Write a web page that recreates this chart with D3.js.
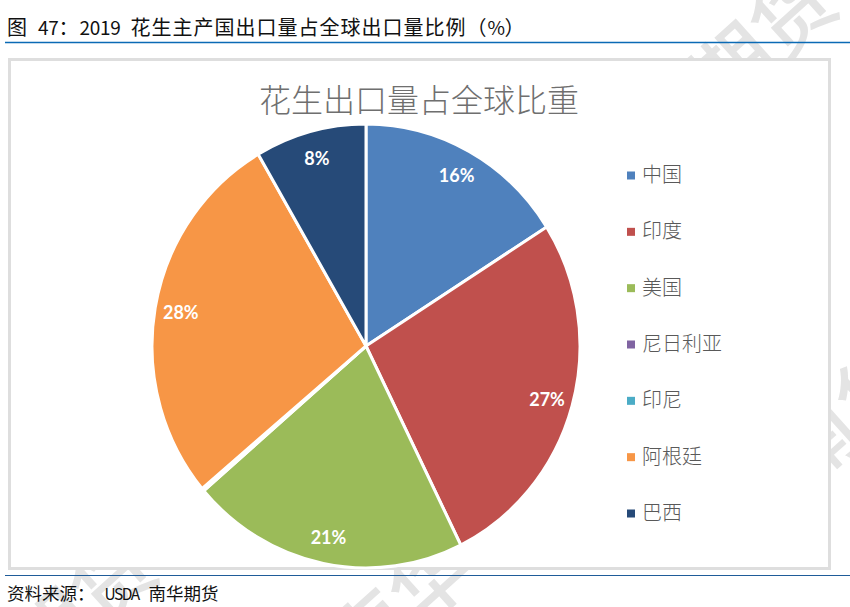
<!DOCTYPE html>
<html><head><meta charset="utf-8">
<script src="https://cdn.jsdelivr.net/npm/d3@7/dist/d3.min.js"></script>
<style>html,body{margin:0;padding:0;background:#fff}svg{display:block}</style>
</head><body><svg id="c" width="850" height="607"></svg>
<script>
const categories=["中国","印度","美国","尼日利亚","印尼","阿根廷","巴西"];
const shares=[16.0,26.7,21.0,0.1,0.1,27.7,8.4];
const labels=["16%","27%","21%","","","28%","8%"];
const colors=["#4f81bd","#c0504d","#9bbb59","#8064a2","#4bacc6","#f79646","#264a78"];
const pageTitle="图 47：2019 花生主产国出口量占全球出口量比例（%）";
const chartTitle="花生出口量占全球比重";
const source="资料来源： USDA 南华期货";
const watermarks=[["期货",768,46],["南华",852,420],["南华",405,612],["期货",88,612]];

const svg=d3.select("#c");
const cjk='"Noto Sans CJK SC","Noto Sans",sans-serif';
// mixed-script line: full-width runs and condensed latin runs
function mixed(x,y,str,cjkSize,ls,latSize,latLs,ws){
  const isLat=d=>/^[\x20-\x7e]/.test(d);
  const t=svg.append("text").attr("x",x).attr("y",y).attr("fill","#111").attr("font-family",cjk);
  t.selectAll("tspan").data(str.match(/[\x20-\x7e]+|[^\x20-\x7e]+/g)).join("tspan")
    .style("white-space","pre")
    .style("word-spacing",d=>isLat(d)?ws+"px":"0px")
    .attr("font-size",d=>isLat(d)?latSize:cjkSize)
    .attr("letter-spacing",d=>isLat(d)?latLs:ls)
    .text(d=>d);
}
svg.selectAll(".wm").data(watermarks).join("text").attr("class","wm")
  .attr("transform",d=>`translate(${d[1]},${d[2]}) rotate(-42)`)
  .attr("text-anchor","middle").attr("dominant-baseline","middle")
  .attr("font-family",cjk).attr("font-weight",500).attr("font-size",80).attr("fill","#e4e4e4").text(d=>d[0]);

mixed(7,35,pageTitle,20,1,19,-0.3,6);
svg.append("line").attr("x1",5).attr("x2",850).attr("y1",42.5).attr("y2",42.5).attr("stroke","#0a6ab5").attr("stroke-width",1.3);

svg.append("rect").attr("x",9.5).attr("y",59.5).attr("width",820).attr("height",509).attr("fill","#fff").attr("stroke","#dedede").attr("stroke-width",3);
svg.append("text").attr("x",419).attr("y",112).attr("text-anchor","middle").attr("font-family",cjk).attr("font-weight",300).attr("font-size",32).attr("fill","#6f6f6f").text(chartTitle);

const cx=366,cy=346,R=214,stretch=222/214;
const pie=d3.pie().sort(null).value(d=>d.v)(categories.map((c,i)=>({c,v:shares[i],l:labels[i],col:colors[i]})));
const arc=d3.arc().innerRadius(0).outerRadius(R);
const lab=d3.arc().innerRadius(188).outerRadius(188);
const g=svg.append("g").attr("transform",`translate(${cx},${cy})`);
g.append("g").attr("transform",`scale(1,${stretch})`).selectAll("path").data(pie).join("path").attr("d",arc).attr("fill",d=>d.data.col).attr("stroke","#fff").attr("stroke-width",3);
g.append("g").selectAll("text").data(pie.filter(d=>d.data.l)).join("text")
  .attr("transform",d=>{const [a,b]=lab.centroid(d);return `translate(${a},${b*stretch})`;}).attr("text-anchor","middle").attr("dominant-baseline","central")
  .attr("font-family","Lato,sans-serif").attr("font-weight",700).attr("font-size",18).attr("fill","#fff").text(d=>d.data.l);

const y=d3.scalePoint().domain(categories).range([175.5,513.5]);
const lg=svg.selectAll(".lg").data(categories).join("g").attr("class","lg").attr("transform",d=>`translate(627,${y(d)})`);
lg.append("rect").attr("x",0).attr("y",-4).attr("width",8).attr("height",8).attr("fill",(d,i)=>colors[i]);
lg.append("text").attr("x",15).attr("y",-2).attr("dominant-baseline","central").attr("font-family",cjk).attr("font-weight",300).attr("font-size",20).attr("fill","#595959").text(d=>d);

svg.append("line").attr("x1",5).attr("x2",850).attr("y1",575.5).attr("y2",575.5).attr("stroke","#1f5c99").attr("stroke-width",1.2);
mixed(7,600,source,17.5,0,15.5,-1.5,8);
</script></body></html>
